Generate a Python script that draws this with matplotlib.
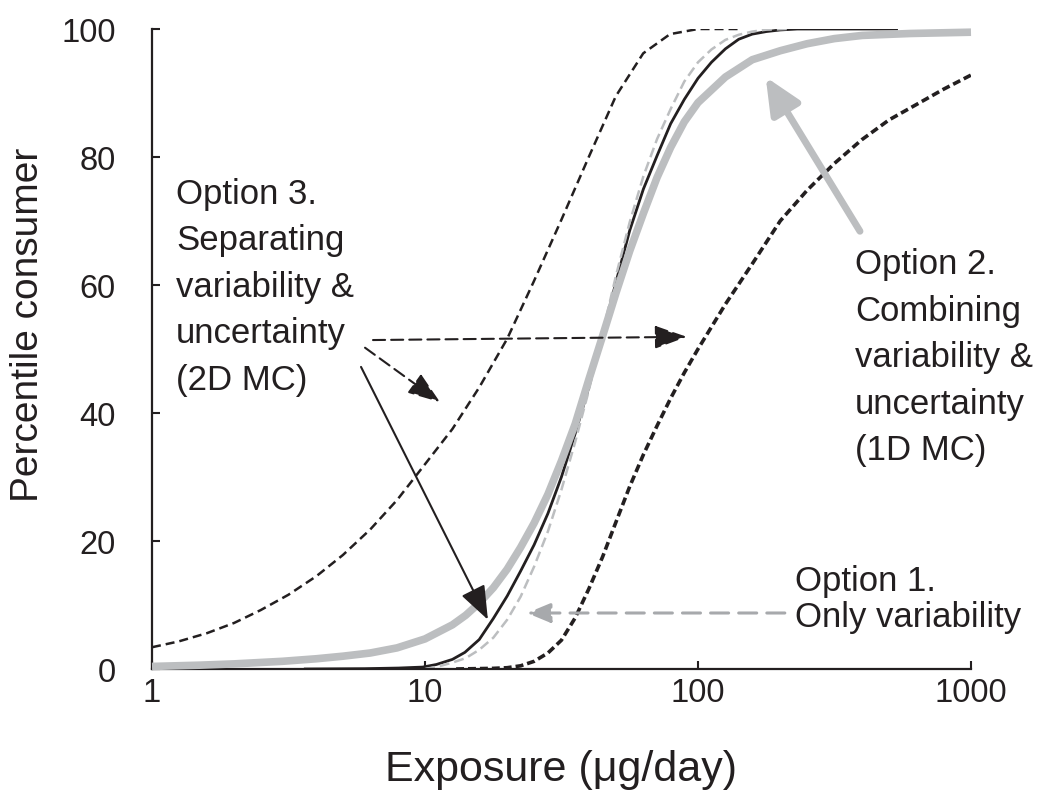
import matplotlib
matplotlib.use('Agg')
import matplotlib.pyplot as plt
from matplotlib.ticker import FixedLocator, FixedFormatter, NullLocator

plt.rcParams['font.family'] = ['Liberation Sans', 'DejaVu Sans']

# ---------------- data ----------------
# Option 3, 2D MC: upper uncertainty bound (left dashed)
unc_hi_x = [1, 1.25, 1.59, 2.0, 2.5, 3.16, 4.0, 5.0, 6.3, 7.9, 10, 12.6, 15.8, 20, 25, 31.6,
            39.8, 50, 63, 79, 100, 145]
unc_hi_y = [3.4, 4.3, 5.6, 7.2, 9.2, 11.6, 14.5, 17.8, 21.8, 26.4, 32, 37.5, 44, 51.6, 60.5, 70.2,
            80, 89.5, 96.2, 99.2, 100, 100]

# Option 3, 2D MC: median (black solid)
med_x = [3.6, 6, 8, 9.8, 11, 12.6, 14, 15.8, 17.8, 20, 22.4, 25.1, 28.2, 31.6, 35.5, 39.8, 44.7,
         50.1, 56.2, 63.1, 70.8, 79.4, 89.1, 100, 112, 126, 141, 158, 178, 200, 231, 540]
med_y = [0, 0.05, 0.15, 0.3, 0.7, 1.5, 2.6, 4.6, 7.9, 11.4, 15.3, 19.4, 24.3, 30.0, 36.8, 44.0, 52.2,
         60.5, 68.5, 75.0, 80.2, 85.2, 89.0, 92.3, 94.8, 96.9, 98.4, 99.2, 99.6, 99.85, 100, 100]

# Option 3, 2D MC: lower uncertainty bound (right dashed)
unc_lo_x = [13, 17.8, 20, 22.4, 25.1, 28.2, 31.6, 35.5, 39.8, 44.7, 50.1, 56.2, 63.1, 70.8, 79.4,
            89.1, 100, 126, 158, 200, 251, 316, 398, 501, 631, 794, 1000]
unc_lo_y = [0, 0.1, 0.2, 0.5, 1.2, 2.5, 4.5, 8.0, 12.5, 17.5, 23.0, 28.5, 33.5, 38.0, 42.3,
            46.3, 50.0, 57.0, 63.3, 70.0, 74.8, 79.0, 82.7, 85.8, 88.2, 90.6, 92.8]

# Option 1: only variability (light grey dashed)
var_x = [10, 11.2, 12.6, 14.1, 15.8, 17.8, 20, 22.4, 25.1, 28.2, 31.6, 35.5, 39.8, 44.7, 50.1,
         56.2, 63.1, 70.8, 79.4, 89.1, 100, 112, 126, 141, 158, 178, 214]
var_y = [0, 0.4, 1.0, 1.7, 3.0, 4.9, 7.7, 11.3, 16.0, 21.5, 28.0, 35.5, 43.5, 52.5, 61.5,
         69.8, 77.0, 82.8, 87.5, 91.8, 94.8, 96.8, 98.3, 99.1, 99.6, 99.9, 100]

# Option 2: 1D MC (thick grey)
mc1_x = [1, 1.5, 2, 3, 4, 5, 6.3, 7.9, 10, 12.6, 14.1, 15.8, 17.8, 20, 22.4, 25.1, 28.2, 31.6,
         35.5, 39.8, 44.7, 50.1, 56.2, 63.1, 70.8, 79.4, 89.1, 100, 126, 158, 200, 251, 316, 400,
         600, 1000]
mc1_y = [0.4, 0.6, 0.8, 1.2, 1.6, 2.0, 2.5, 3.3, 4.7, 6.9, 8.4, 10.3, 12.7, 15.6, 19.0, 22.8, 27.3,
         32.5, 38.3, 45.2, 52.0, 58.8, 65.3, 71.2, 76.8, 81.5, 85.5, 88.5, 92.5, 95.2, 96.6, 97.7,
         98.5, 99.0, 99.3, 99.5]

x_ticks = [1, 10, 100, 1000]
x_tick_labels = ['1', '10', '100', '1000']
y_ticks = [0, 20, 40, 60, 80, 100]
y_tick_labels = ['0', '20', '40', '60', '80', '100']

x_label = 'Exposure (\u03bcg/day)'
y_label = 'Percentile consumer'

label_opt3 = 'Option 3.\nSeparating\nvariability &\nuncertainty\n(2D MC)'
label_opt2 = 'Option 2.\nCombining\nvariability &\nuncertainty\n(1D MC)'
label_opt1 = 'Option 1.\nOnly variability'

# annotation anchor points (data coordinates)
arr_h_start, arr_h_end = (6.45, 51.4), (91, 51.9)
arr_d_start, arr_d_end = (6.03, 50.2), (11.35, 41.7)
arr_s_start, arr_s_end = (5.83, 47.2), (17.0, 7.7)
arr_g1_start, arr_g1_end = (208, 8.75), (23.6, 8.75)
arr_g2_start, arr_g2_end = (392, 68.4), (177, 92.5)

txt_opt3_pos = (1.224, 76.9)
txt_opt2_pos = (376, 65.9)
txt_opt1_pos = (226.5, 16.4)

# ---------------- styling ----------------
INK = '#231f20'
GREY = '#bcbec0'
GREY_D = '#a7a9ac'

W, H = 1039, 804
fig = plt.figure(figsize=(W / 100, H / 100), dpi=100)
ax = fig.add_axes([152 / W, 1 - 670 / H, (971 - 152) / W, 640 / H])
ax.set_xscale('log')
ax.set_xlim(1, 1000)
ax.set_ylim(0, 100)

ax.plot(med_x, med_y, color=INK, lw=2.0, zorder=2, solid_capstyle='butt')
ax.plot(var_x, var_y, color=GREY, lw=1.8, ls=(0, (4, 2)), zorder=2.5)
ax.plot(mc1_x, mc1_y, color=GREY, lw=5.5, zorder=3, clip_on=False, solid_capstyle='butt')
ax.plot(unc_hi_x, unc_hi_y, color=INK, lw=1.8, ls=(0, (3.6, 2.0)), zorder=4)
ax.plot(unc_lo_x, unc_lo_y, color=INK, lw=2.6, ls=(0, (2.2, 1.1)), zorder=4)


def arrow(start, end, color, lw, ls, hl, hw):
    ax.annotate('', xy=end, xytext=start, xycoords='data', textcoords='data',
                arrowprops=dict(arrowstyle=f'-|>,head_length={hl},head_width={hw}',
                                color=color, lw=lw, ls=ls, shrinkA=0, shrinkB=0,
                                mutation_scale=10),
                annotation_clip=False, zorder=5)


arrow(arr_h_start, arr_h_end, INK, 1.5, (0, (5.8, 2.9)), 2.0, 0.72)
arrow(arr_d_start, arr_d_end, INK, 1.5, (0, (5.8, 2.9)), 2.0, 0.72)
arrow(arr_s_start, arr_s_end, INK, 1.5, '-', 2.1, 0.8)
arrow(arr_g1_start, arr_g1_end, GREY_D, 2.2, (0, (5.9, 3.3)), 1.45, 0.6)
arrow(arr_g2_start, arr_g2_end, GREY, 5.0, '-', 2.2, 1.0)

ax.text(*txt_opt3_pos, label_opt3, ha='left', va='top', fontsize=25,
        color=INK, linespacing=1.52)
ax.text(*txt_opt2_pos, label_opt2, ha='left', va='top', fontsize=25,
        color=INK, linespacing=1.52)
ax.text(*txt_opt1_pos, label_opt1, ha='left', va='top', fontsize=25,
        color=INK, linespacing=1.12)

# axes cosmetics
for s in ['top', 'right']:
    ax.spines[s].set_visible(False)
for s in ['left', 'bottom']:
    ax.spines[s].set_linewidth(1.6)
    ax.spines[s].set_color(INK)

ax.xaxis.set_major_locator(FixedLocator(x_ticks))
ax.xaxis.set_major_formatter(FixedFormatter(x_tick_labels))
ax.xaxis.set_minor_locator(NullLocator())
ax.yaxis.set_major_locator(FixedLocator(y_ticks))
ax.yaxis.set_major_formatter(FixedFormatter(y_tick_labels))

ax.tick_params(axis='both', direction='in', length=6, width=1.5, color=INK,
               labelsize=23.5, labelcolor=INK)
ax.tick_params(axis='y', pad=26)
ax.tick_params(axis='x', pad=6)

fig.text(28 / W, 1 - 325 / H, y_label, rotation=90, ha='center', va='center',
         fontsize=28, color=INK)
fig.text(561 / W, 1 - 770 / H, x_label, ha='center', va='center',
         fontsize=31, color=INK)

fig.savefig('out.png', dpi=100)
